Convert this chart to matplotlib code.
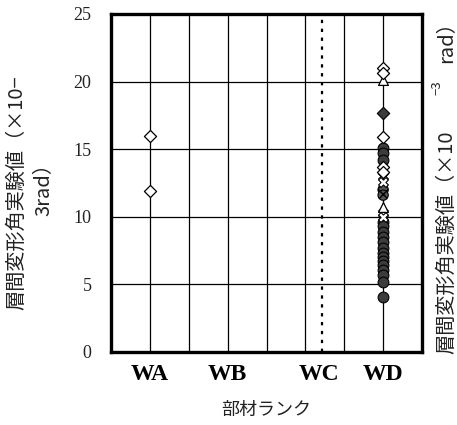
import matplotlib
matplotlib.use("Agg")
import matplotlib.pyplot as plt

# ---- data ----
categories = ["WA", "WB", "WC", "WD"]
cat_pos = [0.5, 1.5, 2.67, 3.5]
boundary = 2.72

wa_open_diamond = [16.0, 11.9]
wd_open_diamond = [21.0, 20.6, 15.9, 13.7, 13.3]
wd_filled_diamond = [17.7]
wd_open_triangle = [20.1, 10.7]
wd_cross = [13.0, 12.6, 10.3, 10.0]
wd_hatched = [12.0, 11.6]
wd_circle = [15.1, 14.7, 14.2, 9.6, 9.3, 8.9, 8.5, 8.1, 7.7, 7.3, 7.0, 6.7, 6.4, 6.1, 5.7, 5.2, 4.1]

y_ticks = [0, 5, 10, 15, 20, 25]

fig = plt.figure(figsize=(4.57, 4.25), dpi=100)
ax = fig.add_axes([111/457, 1-352/425, (422-111)/457, (352-14)/425])

ax.set_xlim(0, 4)
ax.set_ylim(0, 25)

# grid
for gx in [0.5, 1.0, 1.5, 2.0, 2.5, 3.0, 3.5]:
    ax.axvline(gx, color="black", lw=0.9, zorder=1)
for gy in [5, 10, 15, 20]:
    ax.axhline(gy, color="black", lw=0.9, zorder=1)
ax.axvline(boundary, color="black", lw=1.6, ls=(0, (1.5, 2.5)), zorder=1)

xa = cat_pos[0]
xd = cat_pos[3]
ax.scatter([xa]*len(wa_open_diamond), wa_open_diamond, marker="D", s=38, facecolor="white", edgecolor="black", lw=0.9, zorder=3)
ax.scatter([xd]*len(wd_circle), wd_circle, marker="o", s=60, facecolor="#3c3c3c", edgecolor="black", lw=0.8, zorder=3)
ax.scatter([xd]*len(wd_hatched), wd_hatched, marker="o", s=55, facecolor="#555555", edgecolor="black", hatch="xxx", lw=0.8, zorder=4)
ax.scatter([xd]*len(wd_cross), wd_cross, marker="X", s=50, facecolor="white", edgecolor="black", lw=0.8, zorder=4)
ax.scatter([xd]*len(wd_open_triangle), wd_open_triangle, marker="^", s=50, facecolor="white", edgecolor="black", lw=0.9, zorder=4)
ax.scatter([xd]*len(wd_open_diamond), wd_open_diamond, marker="D", s=38, facecolor="white", edgecolor="black", lw=0.9, zorder=5)
ax.scatter([xd]*len(wd_filled_diamond), wd_filled_diamond, marker="D", s=40, facecolor="#3c3c3c", edgecolor="black", lw=0.8, zorder=5)

for s in ax.spines.values():
    s.set_linewidth(2.4)
    s.set_color("black")

ax.set_yticks(y_ticks)
ax.set_yticklabels([str(v) for v in y_ticks], fontfamily="Liberation Serif", fontsize=13, color="#222222")
ax.set_xticks(cat_pos)
ax.set_xticklabels(categories, fontfamily="Liberation Serif", fontweight="bold", fontsize=17)
ax.tick_params(axis="y", length=0, pad=14)
ax.tick_params(axis="x", length=0, pad=9)

jp = ["Noto Sans CJK JP", "DejaVu Sans"]
fig.text(266/457, 1-410/425, "部材ランク", ha="center", va="center", fontfamily=jp, fontsize=13, color="#222222")

fig.text(17/457, 1-193/425, "層間変形角実験値（×10−", rotation=90, ha="center", va="center", fontfamily=jp, fontsize=14.5, color="#222222")
fig.text(44/457, 1-185/425, "3rad）", rotation=90, ha="center", va="center", fontfamily=jp, fontsize=14.5, color="#222222")

fig.text(447/457, 1-242/425, "層間変形角実験値（×10", rotation=90, ha="center", va="center", fontfamily=jp, fontsize=14.5, color="#222222")
fig.text(437/457, 1-88/425, "−3", rotation=90, ha="center", va="center", fontfamily=jp, fontsize=9.5, color="#222222")
fig.text(447/457, 1-37/425, "rad）", rotation=90, ha="center", va="center", fontfamily=jp, fontsize=14.5, color="#222222")

fig.savefig("out.png", dpi=100)
